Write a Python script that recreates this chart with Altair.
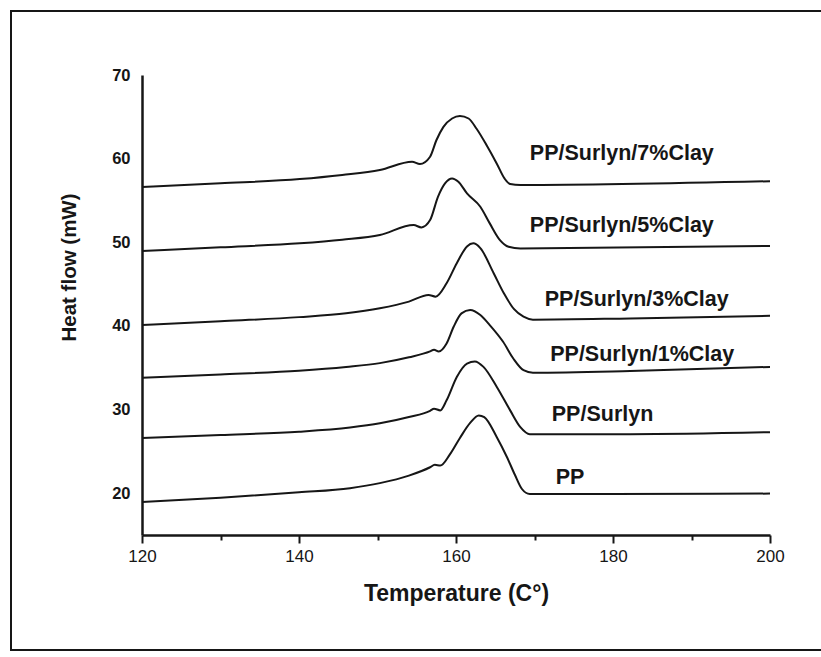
import altair as alt
import pandas as pd

# ---- data ----
series_names = ["PP", "PP/Surlyn", "PP/Surlyn/1%Clay", "PP/Surlyn/3%Clay",
                "PP/Surlyn/5%Clay", "PP/Surlyn/7%Clay"]

temp_pp = [120, 130, 140, 146.5, 150.3, 154.0, 156.7, 157.3, 158.0, 159.2, 160.5, 161.8,
           162.9, 163.6, 165.2, 166.5, 167.5, 168.4, 169.4, 180, 200]
hf_pp = [18.96, 19.45, 20.1, 20.6, 21.2, 22.1, 23.1, 23.4, 23.3, 24.6, 26.6, 28.4,
         29.3, 29.1, 26.7, 24.3, 22.2, 20.5, 19.9, 19.9, 19.95]

temp_surlyn = [120, 130, 140, 146.5, 150.3, 154.0, 156.7, 157.2, 158.0, 158.8, 160.1, 161.4,
               162.4, 163.5, 165.2, 166.9, 168.2, 169.4, 182.2, 200]
hf_surlyn = [26.6, 26.95, 27.35, 27.85, 28.35, 29.1, 29.85, 30.1, 29.9, 31.1, 33.9, 35.5,
             35.75, 35.1, 32.7, 29.9, 27.9, 27.06, 27.06, 27.3]

temp_c1 = [120, 130, 140, 146.0, 150.3, 154.0, 156.7, 157.2, 157.8, 158.8, 159.7, 160.7,
           161.8, 163.1, 164.3, 166.0, 167.3, 168.6, 169.8, 182.2, 200]
hf_c1 = [33.8, 34.2, 34.65, 35.1, 35.55, 36.25, 36.95, 37.15, 36.95, 37.9, 39.9, 41.5,
         41.9, 41.3, 40.1, 38.1, 36.1, 34.7, 34.4, 34.6, 35.1]

temp_c3 = [120, 130, 140, 146.0, 150.3, 154.0, 156.5, 157.4, 158.8, 160.1, 161.4, 162.2,
           163.1, 164.8, 166.1, 167.4, 168.6, 169.8, 182.2, 200]
hf_c3 = [40.1, 40.55, 41.05, 41.5, 42.1, 42.9, 43.7, 43.5, 45.1, 47.5, 49.5, 49.87,
         49.3, 46.3, 43.9, 42.0, 41.1, 40.75, 40.9, 41.2]

temp_c5 = [120, 130, 140.1, 145.5, 150.3, 154.6, 155.6, 156.7, 157.7, 158.6, 159.5, 160.3,
           161.4, 163.1, 164.3, 165.6, 166.7, 168.2, 200]
hf_c5 = [48.95, 49.4, 49.87, 50.3, 50.86, 52.06, 51.78, 52.65, 55.44, 57.05, 57.64, 57.24,
         55.85, 54.25, 52.26, 50.26, 49.46, 49.27, 49.55]

temp_c7 = [120, 130, 140.1, 145.5, 150.3, 154.4, 155.4, 156.7, 157.5, 158.4, 159.5, 160.5,
           161.6, 162.6, 163.9, 165.2, 166.2, 166.9, 168.2, 200]
hf_c7 = [56.6, 57.05, 57.56, 58.05, 58.64, 59.63, 59.35, 60.23, 62.2, 63.8, 64.8, 65.1,
         64.8, 63.6, 61.6, 59.4, 57.6, 56.96, 56.84, 57.3]

label_temp = [172.7, 172.2, 172.0, 171.3, 169.4, 169.4]
label_hf = [21.8, 29.4, 36.5, 43.1, 51.9, 60.55]

x_ticks = [120, 130, 140, 150, 160, 170, 180, 190, 200]
y_ticks = [20, 30, 40, 50, 60, 70]

# ---- tables ----
curves = []
for name, ts, hs in zip(series_names,
                        [temp_pp, temp_surlyn, temp_c1, temp_c3, temp_c5, temp_c7],
                        [hf_pp, hf_surlyn, hf_c1, hf_c3, hf_c5, hf_c7]):
    for t, h in zip(ts, hs):
        curves.append({"series": name, "T": t, "HF": h})
curve_df = pd.DataFrame(curves)
label_df = pd.DataFrame({"label": series_names, "T": label_temp, "HF": label_hf})

FONT = "Liberation Sans"
INK = "#161616"

x_enc = alt.X(
    "T:Q",
    scale=alt.Scale(domain=[120, 200], nice=False, zero=False),
    axis=alt.Axis(
        title="Temperature (C°)",
        values=x_ticks,
        labelExpr="datum.value % 20 === 0 ? datum.label : ''",
        tickSize={"condition": {"test": "datum.value % 20 === 0", "value": 8}, "value": 5},
        tickWidth=2,
        tickColor=INK,
        domainColor=INK,
        domainWidth=2.5,
        grid=False,
        labelFlush=False,
        labelFont=FONT,
        labelFontSize=17,
        labelColor=INK,
        labelPadding=5,
        titleFont=FONT,
        titleFontSize=23,
        titleFontWeight="bold",
        titleColor=INK,
        titlePadding=18,
    ),
)
y_enc = alt.Y(
    "HF:Q",
    scale=alt.Scale(domain=[15, 70], nice=False, zero=False),
    axis=alt.Axis(
        title="Heat flow (mW)",
        values=y_ticks,
        ticks=False,
        tickSize=0,
        domainColor=INK,
        domainWidth=2.5,
        grid=False,
        labelFont=FONT,
        labelFontSize=16.5,
        labelFontWeight="bold",
        labelColor=INK,
        labelPadding=12,
        titleFont=FONT,
        titleFontSize=20.5,
        titleFontWeight="bold",
        titleColor=INK,
        titlePadding=32,
        titleY=192,
    ),
)

lines = alt.Chart(curve_df).mark_line(
    interpolate="monotone", color=INK, strokeWidth=2
).encode(x=x_enc, y=y_enc, detail="series:N", order="T:Q")

labels = alt.Chart(label_df).mark_text(
    align="left", baseline="middle", font=FONT, fontSize=21.5, fontWeight="bold", color=INK
).encode(x="T:Q", y="HF:Q", text="label:N")

frame = alt.Chart(pd.DataFrame({"k": [0]})).mark_rect(
    filled=False, stroke=INK, strokeWidth=2
).encode(x=alt.value(-131), x2=alt.value(700), y=alt.value(-64), y2=alt.value(575))

chart = alt.layer(frame, lines, labels).properties(
    width=628,
    height=460,
    autosize=alt.AutoSizeParams(type="none"),
    padding={"left": 142, "top": 75, "right": 51, "bottom": 122},
    background="white",
).configure_view(stroke=None)

chart.save("out.html", embed_options={"renderer": "svg", "actions": False})
